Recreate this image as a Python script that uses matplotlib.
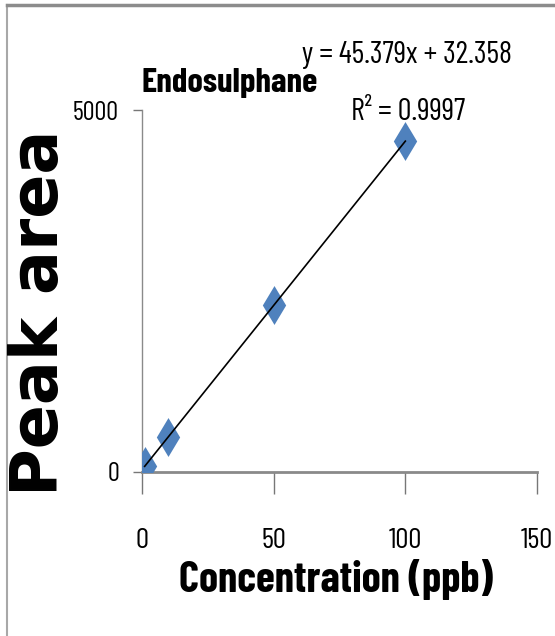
import matplotlib.pyplot as plt
from matplotlib.lines import Line2D
import numpy as np

# calibration points
concentration = [1, 10, 50, 100]
peak_area = [85, 480, 2300, 4570]

# Excel trendline label
slope = 45.379
intercept = 32.358
r_squared = 0.9997

x_ticks = [0, 50, 100, 150]
y_ticks = [0, 5000]

narrow = ["Barlow Condensed", "Archivo Narrow", "Liberation Sans", "DejaVu Sans"]

fig = plt.figure(figsize=(5.55, 6.36), dpi=100)
ax = fig.add_axes([0.2559, 0.2579, 0.7117, 0.5691])

# tall diamond, the source picture is stretched vertically
diamond = [(0, 1.0), (0.6, 0), (0, -1.0), (-0.6, 0), (0, 1.0)]
ax.plot(concentration, peak_area, linestyle="none", marker=diamond,
        markersize=28, color="#4F81BD", markeredgewidth=0, zorder=3)

fit_x = np.array([min(concentration), max(concentration)])
ax.plot(fit_x, slope * fit_x + intercept, color="black", lw=1.2, zorder=4)

ax.set_xlim(0, 150)
ax.set_ylim(0, 5000)
ax.set_xticks(x_ticks)
ax.set_yticks(y_ticks)
ax.set_xticklabels([str(t) for t in x_ticks], family=narrow, fontsize=21)
ax.set_yticklabels([str(t) for t in y_ticks], family=narrow, fontsize=19)
ax.tick_params(axis="x", direction="out", length=16, width=1, color="#777777", pad=24)
ax.tick_params(axis="y", direction="out", length=6.5, width=1, color="#777777", pad=10)

for side in ("top", "right"):
    ax.spines[side].set_visible(False)
ax.spines["bottom"].set_color("#8a8a8a")
ax.spines["bottom"].set_linewidth(2)
ax.spines["left"].set_color("#8a8a8a")
ax.spines["left"].set_linewidth(1)
ax.patch.set_alpha(0)

fig.text(40 / 555, 1 - 313 / 636, "Peak area", rotation=90, ha="center", va="center",
         fontsize=47, fontweight="bold", family="DejaVu Sans")
fig.text(336 / 555, 1 - 580 / 636, "Concentration (ppb)", ha="center", va="center",
         fontsize=31, fontweight="bold", family=narrow)
fig.text(230 / 555, 1 - 83 / 636, "Endosulphane", ha="center", va="center",
         fontsize=25, fontweight="bold", family=narrow)
fig.text(407 / 555, 1 - 55 / 636, f"y = {slope}x + {intercept}", ha="center", va="center",
         fontsize=22, family=narrow)
fig.text(408 / 555, 1 - 112 / 636, f"R² = {r_squared}", ha="center", va="center",
         fontsize=22, family=narrow)

# outer chart frame, only the top and left edges show in the crop
fig.add_artist(Line2D([7 / 555, 7 / 555], [0, 1 - 5 / 636], color="#a8a8a8", lw=1.5))
fig.add_artist(Line2D([7 / 555, 1], [1 - 5 / 636, 1 - 5 / 636], color="#8c8c8c", lw=2.5))

fig.savefig("out.png", dpi=100)
